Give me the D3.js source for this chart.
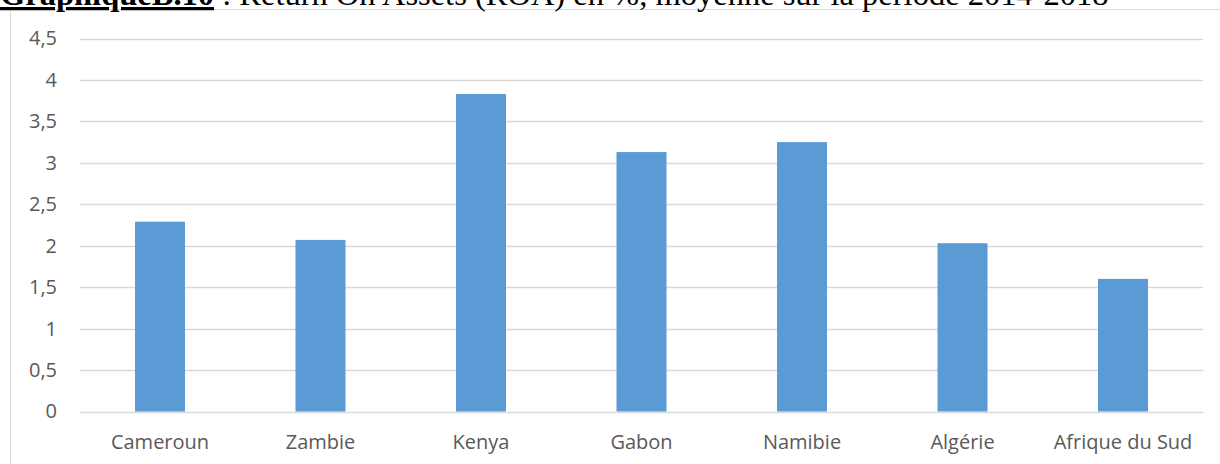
<!DOCTYPE html>
<html><head><meta charset="utf-8">
<script src="https://cdn.jsdelivr.net/npm/d3@7"></script>
<style>html,body{margin:0;padding:0;background:#fff;overflow:hidden}</style>
</head><body>
<svg id="c" width="1220" height="464"></svg>
<script>
const categories = ["Cameroun","Zambie","Kenya","Gabon","Namibie","Algérie","Afrique du Sud"];
const roaValues = [2.29, 2.07, 3.83, 3.13, 3.25, 2.03, 1.60];
const yTicks = [0, 0.5, 1, 1.5, 2, 2.5, 3, 3.5, 4, 4.5];
const titleBold = "GraphiqueB.10";
const titleRest = " : Return On Assets (ROA) en %, moyenne sur la période 2014-2018";

const svg = d3.select("#c");
const fmt = v => String(v).replace(".", ",");

// chart area border
svg.append("rect").attr("x",10.5).attr("y",9.5).attr("width",1230).attr("height",480)
  .attr("fill","#fff").attr("stroke","#d9d9d9").attr("stroke-width",1);

// title (partially clipped at the top, as in the reference)
const t = svg.append("text").attr("x",0).attr("y",5)
  .attr("font-family","Liberation Serif, Times New Roman, serif").attr("font-size",32.5).attr("fill","#000");
t.append("tspan").attr("font-weight","bold").attr("text-decoration","underline").text(titleBold);
t.append("tspan").text(titleRest);

const x = d3.scaleBand().domain(categories).range([79.75, 1203.25]).padding(0);
const y = d3.scaleLinear().domain([0, 4.5]).range([411.5, 38.5]);

// gridlines
svg.append("g").selectAll("line").data(yTicks).join("line")
  .attr("x1",79.75).attr("x2",1203.25)
  .attr("y1",d=>Math.round(y(d))+0.5).attr("y2",d=>Math.round(y(d))+0.5)
  .attr("stroke","#d9d9d9").attr("stroke-width",1.5);

// y axis labels
const yAxis = d3.axisLeft(y).tickValues(yTicks).tickFormat(fmt).tickSize(0).tickPadding(0);
const gy = svg.append("g").attr("transform","translate(57,0)").call(yAxis);
gy.select(".domain").remove();
gy.selectAll("text").attr("font-family","Open Sans, sans-serif").attr("font-size",20).attr("fill","#595959");

// bars
const bw = 50;
svg.append("g").selectAll("rect").data(categories).join("rect")
  .attr("x",(d)=>x(d)+x.bandwidth()/2-bw/2)
  .attr("y",(d,i)=>y(roaValues[i]))
  .attr("width",bw)
  .attr("height",(d,i)=>y(0)-y(roaValues[i]))
  .attr("fill","#5b9bd5");

// x axis labels
const xAxis = d3.axisBottom(x).tickSize(0).tickPadding(0);
const gx = svg.append("g").attr("transform","translate(0,435)").call(xAxis);
gx.select(".domain").remove();
gx.selectAll("text").attr("font-family","Open Sans, sans-serif").attr("font-size",20).attr("fill","#595959");
</script>
</body></html>
